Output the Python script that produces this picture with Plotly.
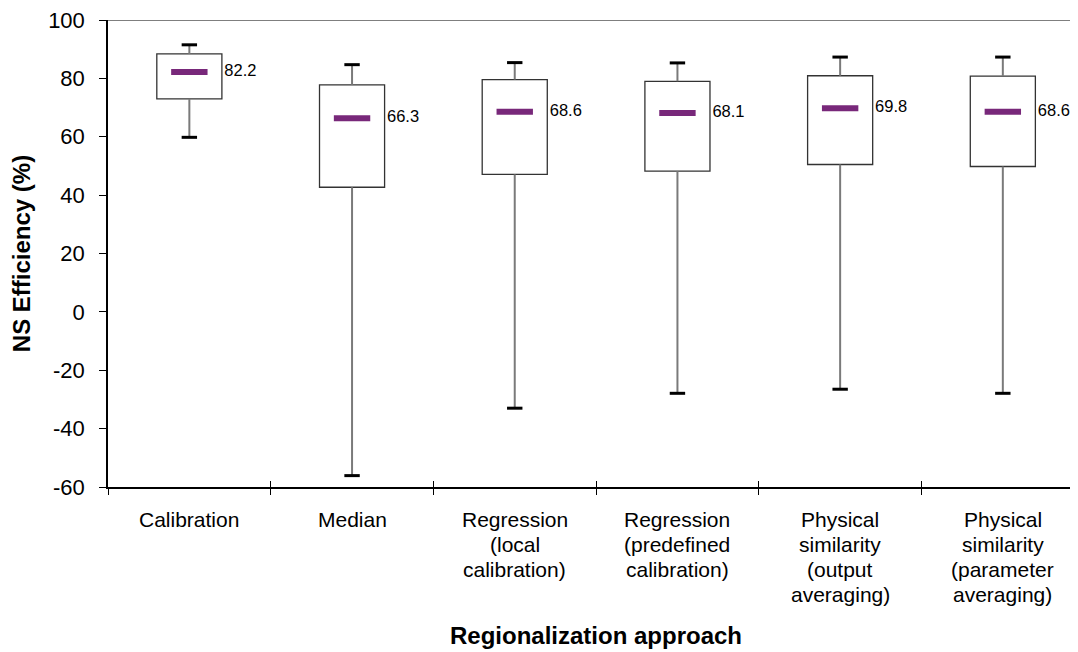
import plotly.graph_objects as go

categories = [
    "Calibration",
    "Median",
    "Regression<br>(local<br>calibration)",
    "Regression<br>(predefined<br>calibration)",
    "Physical<br>similarity<br>(output<br>averaging)",
    "Physical<br>similarity<br>(parameter<br>averaging)",
]
whisker_low = [59.8, -56.1, -33.0, -27.9, -26.5, -27.9]
q1 = [73.0, 42.7, 47.1, 48.2, 50.5, 49.8]
median = [82.2, 66.3, 68.6, 68.1, 69.8, 68.6]
q3 = [88.4, 77.8, 79.6, 79.0, 80.9, 80.8]
whisker_high = [91.5, 84.7, 85.4, 85.3, 87.3, 87.3]
median_labels = ["82.2", "66.3", "68.6", "68.1", "69.8", "68.6"]
y_ticks = [-60, -40, -20, 0, 20, 40, 60, 80, 100]
y_tick_labels = ["-60", "-40", "-20", "0", "20", "40", "60", "80", "100"]

FONT = "Liberation Sans, Arial, sans-serif"
PURPLE = "#78287A"
xs = list(range(len(categories)))
box_w = 0.4

fig = go.Figure()

# whiskers
wx, wy = [], []
for i in xs:
    wx += [i, i, None, i, i, None]
    wy += [q3[i], whisker_high[i], None, whisker_low[i], q1[i], None]
fig.add_trace(go.Scatter(x=wx, y=wy, mode="lines",
                         line=dict(color="#7a7a7a", width=2),
                         hoverinfo="skip", showlegend=False))

# boxes
fig.add_trace(go.Bar(x=xs, y=[q3[i] - q1[i] for i in xs], base=q1, width=box_w,
                     marker=dict(color="white", line=dict(color="#333333", width=1.3)),
                     showlegend=False))

# caps
fig.add_trace(go.Scatter(x=xs + xs, y=whisker_high + whisker_low, mode="markers",
                         marker=dict(symbol="line-ew", size=11,
                                     line=dict(color="black", width=3)),
                         showlegend=False))

# medians
fig.add_trace(go.Scatter(x=xs, y=median, mode="markers",
                         marker=dict(symbol="line-ew", size=26,
                                     line=dict(color=PURPLE, width=6)),
                         showlegend=False))

# median labels
fig.add_trace(go.Scatter(x=[i + box_w / 2 + 0.015 for i in xs], y=median, mode="text",
                         text=median_labels, textposition="middle right",
                         textfont=dict(family=FONT, size=16.5, color="black"),
                         showlegend=False))

# category labels, line by line
for i, cat in enumerate(categories):
    for j, line in enumerate(cat.split("<br>")):
        fig.add_annotation(x=i, xref="x", y=0, yref="paper", text=line,
                           showarrow=False, yanchor="middle", xanchor="center",
                           yshift=-(32 + 25 * j),
                           font=dict(family=FONT, size=21, color="black"))

# x-axis title
fig.add_annotation(x=(len(categories) - 1) / 2, xref="x", y=0, yref="paper",
                   text="<b>Regionalization approach</b>", showarrow=False,
                   yanchor="middle", xanchor="center", yshift=-148,
                   font=dict(family=FONT, size=24, color="black"))

# top frame line
fig.add_shape(type="line", xref="paper", yref="y", x0=0, x1=1, y0=100, y1=100,
              line=dict(color="#555555", width=1.3))

bounds = [i - 0.5 for i in range(len(categories) + 1)]

fig.update_layout(
    width=1070, height=644,
    margin=dict(l=100, r=0, t=11.5, b=164.5),
    plot_bgcolor="white", paper_bgcolor="white",
    font=dict(family=FONT, color="black"),
    showlegend=False,
    xaxis=dict(range=[-0.5, 5.462], tickvals=bounds, ticktext=[""] * len(bounds),
               ticks="outside", ticklen=6, tickwidth=1.3, tickcolor="black",
               showline=True, linecolor="black", linewidth=1.5,
               showgrid=False, zeroline=False, fixedrange=True),
    xaxis2=dict(range=[-0.5, 5.462], overlaying="x", side="bottom",
                anchor="y", tickvals=bounds, ticktext=[""] * len(bounds),
                ticks="inside", ticklen=6, tickwidth=1.3, tickcolor="black",
                showline=False, showgrid=False, zeroline=False, showticklabels=False),
    yaxis=dict(range=[-60, 100], tickvals=y_ticks, ticktext=y_tick_labels,
               ticks="outside", ticklen=7, tickwidth=1.3, tickcolor="black",
               showline=True, linecolor="black", linewidth=1.5,
               showgrid=False, zeroline=False,
               tickfont=dict(family=FONT, size=22, color="black"),
               ticklabelstandoff=10, ticklabeloverflow="allow",
               title=dict(text="<b>NS Efficiency (%)</b>", standoff=12,
                          font=dict(family=FONT, size=24, color="black"))),
)
# dummy trace to show xaxis2 ticks
fig.add_trace(go.Scatter(x=[None], y=[None], xaxis="x2", showlegend=False))

fig.write_html("out.html")
